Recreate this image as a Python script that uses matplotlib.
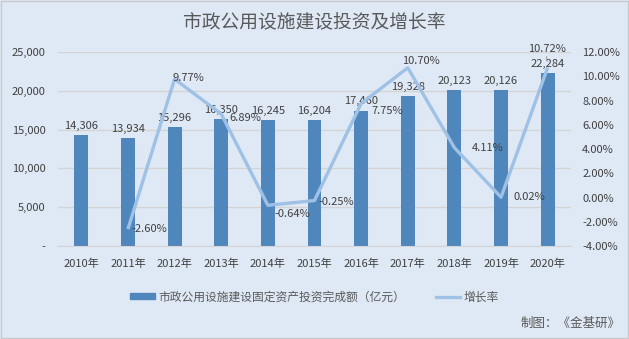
import matplotlib
matplotlib.use('Agg')
import matplotlib.pyplot as plt
from matplotlib.patches import Rectangle
from matplotlib.lines import Line2D
from matplotlib.ticker import FuncFormatter

plt.rcParams['font.family'] = ['Noto Sans CJK SC', 'DejaVu Sans']

# 数据
years = ['2010年', '2011年', '2012年', '2013年', '2014年', '2015年',
         '2016年', '2017年', '2018年', '2019年', '2020年']
invest = [14306, 13934, 15296, 16350, 16245, 16204, 17460, 19328, 20123, 20126, 22284]
growth = [None, -2.60, 9.77, 6.89, -0.64, -0.25, 7.75, 10.70, 4.11, 0.02, 10.72]

# 增长率标签偏移（像素）
growth_offsets = [None, (4, 0), (-2, 1), (8, -4), (7, -9), (4, -1),
                  (10, -7), (-6, 7), (17, 0), (12, 0), (-20, 19)]

bg = '#dfe9f5'
bar_color = '#4f87bd'
line_color = '#9fc1e5'
text_color = '#404040'
grid_color = '#d4d4d4'

fig = plt.figure(figsize=(6.29, 3.39), dpi=100, facecolor=bg)
ax = fig.add_axes([0.0922, 0.2743, 0.8156, 0.5723])
ax.set_facecolor(bg)
ax2 = ax.twinx()

x = list(range(len(years)))
ax.bar(x, invest, width=0.3, color=bar_color, zorder=2)
ax.set_ylim(0, 25000)
ax.set_yticks(range(0, 25001, 5000))
ax.yaxis.set_major_formatter(FuncFormatter(lambda v, p: '-' if v == 0 else f'{int(v):,}'))
ax.set_xlim(-0.5, len(years) - 0.5)
ax.set_xticks(x)
ax.set_xticklabels(years)
ax.grid(axis='y', color=grid_color, linewidth=1, zorder=0)
ax.set_axisbelow(True)

for i, v in enumerate(invest):
    ax.annotate(f'{v:,}', (i, v), xytext=(0, 3), textcoords='offset points',
                ha='center', va='bottom', fontsize=8, color=text_color, zorder=5)

gx = [i for i, g in enumerate(growth) if g is not None]
gy = [g for g in growth if g is not None]
ax2.plot(gx, gy, color=line_color, linewidth=2.4, solid_capstyle='butt', zorder=3)
ax2.set_ylim(-4, 12)
ax2.set_yticks(range(-4, 13, 2))
ax2.yaxis.set_major_formatter(FuncFormatter(lambda v, p: f'{v:.2f}%'))

for i in gx:
    dx, dy = growth_offsets[i]
    ax2.annotate(f'{growth[i]:.2f}%', (i, growth[i]), xytext=(dx * 0.72, dy * 0.72),
                 textcoords='offset points', ha='left', va='center',
                 fontsize=8, color=text_color, zorder=6)

# 2020年标签引导线
ax2.annotate('', xy=(10, 11.0), xytext=(9.96, 11.85),
             arrowprops=dict(arrowstyle='-', color='#8c8c8c', linewidth=0.6))

for a in (ax, ax2):
    for s in a.spines.values():
        s.set_visible(False)
    a.tick_params(length=0, labelsize=8, labelcolor=text_color)
ax.tick_params(axis='x', pad=9)
ax.tick_params(axis='y', pad=9)
ax2.tick_params(axis='y', pad=8)
ax.spines['bottom'].set_visible(True)
ax.spines['bottom'].set_color(grid_color)

fig.text(0.5, 0.932, '市政公用设施建设投资及增长率', ha='center', va='center',
         fontsize=13.5, color='#595959')

handles = [Rectangle((0, 0), 1, 1, color=bar_color),
           Line2D([], [], color=line_color, linewidth=2.4)]
fig.legend(handles, ['市政公用设施建设固定资产投资完成额（亿元）', '增长率'],
           loc='center', bbox_to_anchor=(0.5, 0.124), ncol=2, frameon=False,
           fontsize=8.5, labelcolor='#595959', handlelength=2.1, handleheight=0.45,
           handletextpad=0.25, columnspacing=2.6)

fig.text(0.986, 0.045, '制图：《金基研》', ha='right', va='center',
         fontsize=9, color='#595959')

fig.patches.append(Rectangle((0.001, 0.002), 0.997, 0.995, transform=fig.transFigure,
                             fill=False, edgecolor='#c8c8c8', linewidth=1))

fig.savefig('out.png', dpi=100, facecolor=bg)
